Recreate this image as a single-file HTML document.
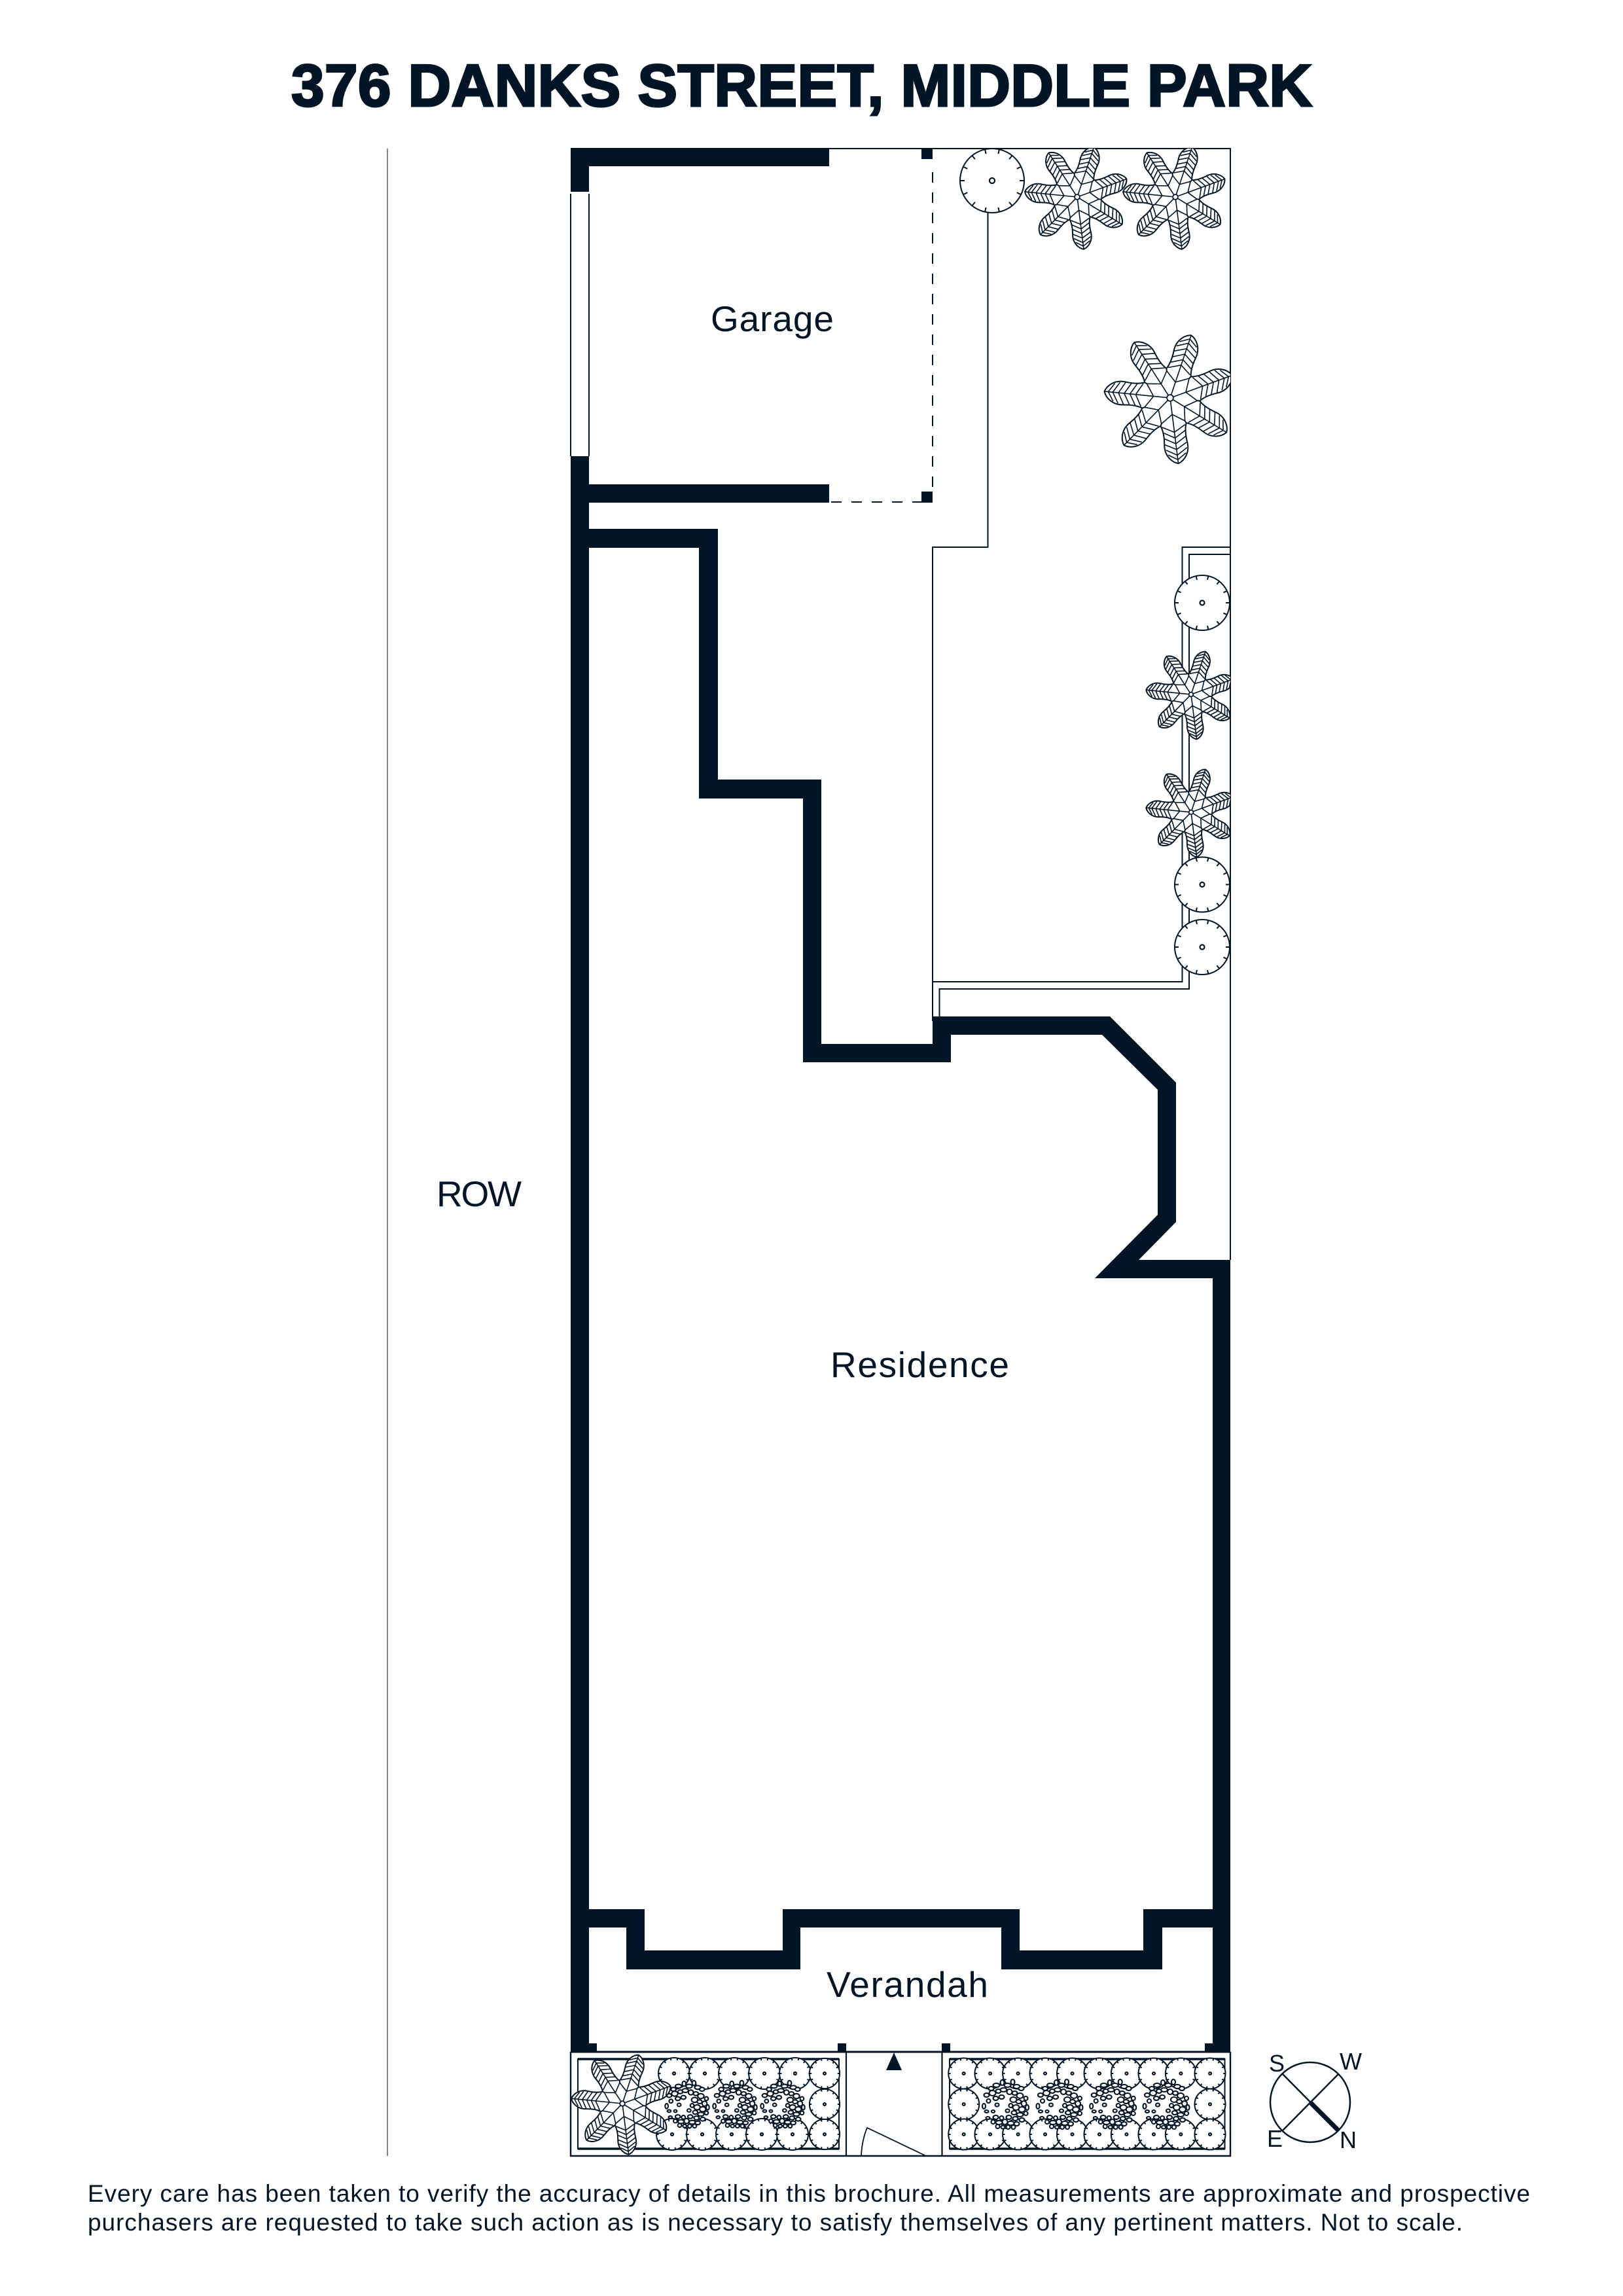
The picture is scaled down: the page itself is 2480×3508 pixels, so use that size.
<!DOCTYPE html>
<html lang="en">
<head>
<meta charset="utf-8">
<title>376 Danks Street, Middle Park</title>
<style>
html,body{margin:0;padding:0;background:#fff}
svg{display:block}
defs *{vector-effect:non-scaling-stroke}
text{font-family:"Liberation Sans",sans-serif;fill:#021527}
</style>
</head>
<body>
<svg xmlns="http://www.w3.org/2000/svg" width="2480" height="3508" viewBox="0 0 2480 3508">
<defs>
<clipPath id="plot"><rect x="860" y="227" width="1020" height="3067"/></clipPath>
<g id="leaf">
<path d="M42,-20C50,-17 60,-16.500 72,-18C88,-20 100,-10 103,0C100,10 88,20 72,18C60,16.500 50,17 42,20" fill="#fff" stroke="#021527" stroke-width="2"/>
<path d="M5,0L102,0M26,0L38,-18L42,-20M26,0L38,18L42,20M54,0L44,-18M54,0L44,18M63,0L53,-17M63,0L53,17M72,0L62,-17M72,0L62,17M81,0L71,-18M81,0L71,18M90,0L80,-16.500M90,0L80,16.500M97,0L88,-14M97,0L88,14" fill="none" stroke="#021527" stroke-width="1.600"/>
</g>
<g id="palm">
<circle r="46" fill="#fff"/>
<use href="#leaf" transform="rotate(-20)"/>
<use href="#leaf" transform="rotate(31.43)"/>
<use href="#leaf" transform="rotate(82.86)"/>
<use href="#leaf" transform="rotate(134.29)"/>
<use href="#leaf" transform="rotate(185.71)"/>
<use href="#leaf" transform="rotate(237.14)"/>
<use href="#leaf" transform="rotate(288.57)"/>
<circle r="5" fill="#fff" stroke="#021527" stroke-width="1.800"/>
</g>
<g id="tree">
<circle r="42" fill="#fff" stroke="#021527" stroke-width="2"/>
<path d="M42,0L36,0M37.800,18.200L32.400,15.600M26.200,32.800L22.400,28.200M9.400,41L8,35.100M-9.400,41L-8,35.100M-26.200,32.800L-22.400,28.200M-37.800,18.200L-32.400,15.600M-42,0L-36,0M-37.800,-18.200L-32.400,-15.600M-26.200,-32.800L-22.400,-28.200M-9.400,-41L-8,-35.100M9.400,-41L8,-35.100M26.200,-32.800L22.400,-28.200M37.800,-18.200L32.400,-15.600" fill="none" stroke="#021527" stroke-width="2"/>
<circle r="3.500" fill="#fff" stroke="#021527" stroke-width="2.200"/>
</g>
<g id="rocks" fill="#fff" stroke="#021527" stroke-width="2.100">
<ellipse cx="-22" cy="-24" rx="4" ry="3"/><ellipse cx="-14" cy="-29" rx="5" ry="3"/><ellipse cx="-5" cy="-33" rx="3" ry="4"/><ellipse cx="3" cy="-29" rx="5" ry="3"/><ellipse cx="11" cy="-34" rx="3" ry="4"/><ellipse cx="17" cy="-27" rx="5" ry="3"/><ellipse cx="24" cy="-24" rx="4" ry="3"/>
<ellipse cx="-29" cy="-14" rx="4" ry="3"/><ellipse cx="-20" cy="-17" rx="5" ry="4"/><ellipse cx="-11" cy="-20" rx="4" ry="3"/><ellipse cx="-3" cy="-22" rx="5" ry="3"/><ellipse cx="6" cy="-19" rx="4" ry="4"/><ellipse cx="14" cy="-17" rx="4" ry="3"/><ellipse cx="22" cy="-13" rx="5" ry="4"/><ellipse cx="31" cy="-9" rx="3" ry="3"/>
<ellipse cx="-26" cy="-5" rx="3" ry="3"/><ellipse cx="-15" cy="-9" rx="4" ry="3"/><ellipse cx="-6" cy="-11" rx="4" ry="3"/><ellipse cx="12" cy="-7" rx="5" ry="4"/><ellipse cx="20" cy="-4" rx="4" ry="3"/><ellipse cx="28" cy="-1" rx="4" ry="4"/>
<ellipse cx="-33" cy="3" rx="2.500" ry="4"/><ellipse cx="-13" cy="1" rx="3" ry="2.500"/><ellipse cx="8" cy="2" rx="3" ry="3"/><ellipse cx="16" cy="5" rx="5" ry="4"/><ellipse cx="25" cy="8" rx="5" ry="4"/><ellipse cx="33" cy="5" rx="2.500" ry="4"/>
<ellipse cx="-29" cy="11" rx="3" ry="2"/><ellipse cx="-19" cy="11" rx="2.500" ry="2"/><ellipse cx="3" cy="10" rx="3" ry="2.500"/><ellipse cx="13" cy="13" rx="4" ry="3"/><ellipse cx="22" cy="16" rx="5" ry="3"/><ellipse cx="31" cy="14" rx="3" ry="3"/>
<ellipse cx="-27" cy="21" rx="3" ry="2"/><ellipse cx="-15" cy="20" rx="4" ry="3"/><ellipse cx="-6" cy="21" rx="3" ry="3"/><ellipse cx="5" cy="20" rx="4" ry="3"/><ellipse cx="15" cy="22" rx="4" ry="3"/><ellipse cx="25" cy="24" rx="4" ry="3"/>
<ellipse cx="-19" cy="27" rx="3" ry="3"/><ellipse cx="-10" cy="28" rx="5" ry="3"/><ellipse cx="-1" cy="27" rx="4" ry="4"/><ellipse cx="8" cy="29" rx="5" ry="3"/><ellipse cx="17" cy="30" rx="4" ry="3"/>
<ellipse cx="-12" cy="34" rx="3" ry="3"/><ellipse cx="-4" cy="35" rx="3" ry="2.500"/><ellipse cx="4" cy="35" rx="3" ry="3"/><ellipse cx="12" cy="35" rx="3" ry="3"/>
</g>
</defs>

<rect width="2480" height="3508" fill="#fff"/>

<text x="445" y="162" font-size="91" font-weight="700" textLength="1560" stroke="#021527" stroke-width="3">376 DANKS STREET, MIDDLE PARK</text>

<!-- ROW line and plot -->
<line x1="592" y1="227" x2="592" y2="3294" stroke="#5d6875" stroke-width="1.600"/>
<path d="M872,227H1880V1925" fill="none" stroke="#021527" stroke-width="2"/>
<path d="M872,296V697M900,296V697" fill="none" stroke="#021527" stroke-width="2"/>
<path d="M872,3135V3294H1880V3135" fill="none" stroke="#021527" stroke-width="2.400"/>
<line x1="872" y1="3135" x2="1880" y2="3135" stroke="#021527" stroke-width="3"/>
<path d="M1293,3135V3294M1439.500,3135V3294" fill="none" stroke="#021527" stroke-width="2.200"/>

<!-- garden lines -->
<path d="M1509.500,275V836H1425V1560" fill="none" stroke="#021527" stroke-width="2"/>
<path d="M1880,836H1806.500V1500H1425" fill="none" stroke="#021527" stroke-width="2"/>
<path d="M1880,847H1817V1511H1435.500V1555" fill="none" stroke="#021527" stroke-width="2"/>

<!-- garage door dashes -->
<line x1="1425" y1="263" x2="1425" y2="752" stroke="#021527" stroke-width="2" stroke-dasharray="16 15"/>
<line x1="1270" y1="767" x2="1408" y2="767" stroke="#021527" stroke-width="2" stroke-dasharray="16 15"/>

<!-- planters -->
<rect x="883" y="3146" width="399" height="137" fill="#fff" stroke="#021527" stroke-width="2"/>
<rect x="1451" y="3146" width="420.500" height="137" fill="#fff" stroke="#021527" stroke-width="2"/>
<path d="M883,3146H1282M883,3283H1282M1451,3146H1871.500M1451,3283H1871.500" stroke="#021527" stroke-width="3.500" fill="none"/>

<!-- plants -->
<g clip-path="url(#plot)">
<use href="#tree" transform="translate(1516,276) scale(1.167)"/>
<use href="#tree" transform="translate(1837,921)"/>
<use href="#tree" transform="translate(1837,1351.500)"/>
<use href="#tree" transform="translate(1837,1447)"/>
<use href="#palm" transform="translate(1646,301) scale(.78)"/>
<use href="#palm" transform="translate(1796,301) scale(.78)"/>
<use href="#palm" transform="translate(1788,608) scale(.98)"/>
<use href="#palm" transform="translate(1820,1061) scale(.67)"/>
<use href="#palm" transform="translate(1820,1241) scale(.67)"/>

<!-- left planter trees -->
<use href="#tree" transform="translate(1030,3168) scale(.57)"/>
<use href="#tree" transform="translate(1077,3168) scale(.57)"/>
<use href="#tree" transform="translate(1122,3168) scale(.57)"/>
<use href="#tree" transform="translate(1168,3168) scale(.57)"/>
<use href="#tree" transform="translate(1215,3168) scale(.57)"/>
<use href="#tree" transform="translate(1260,3168) scale(.55)"/>
<use href="#tree" transform="translate(1260,3215) scale(.55)"/>
<use href="#tree" transform="translate(1260,3261) scale(.55)"/>
<use href="#tree" transform="translate(1027,3261) scale(.57)"/>
<use href="#tree" transform="translate(1073,3261) scale(.57)"/>
<use href="#tree" transform="translate(1118,3261) scale(.57)"/>
<use href="#tree" transform="translate(1164,3261) scale(.57)"/>
<use href="#tree" transform="translate(1211,3261) scale(.57)"/>
<use href="#rocks" transform="translate(1050,3215) scale(.95)"/>
<use href="#rocks" transform="translate(1123,3215) scale(.95)"/>
<use href="#rocks" transform="translate(1196,3215) scale(.95)"/>
<use href="#palm" transform="translate(951,3214) scale(.76)"/>

<!-- right planter trees -->
<use href="#tree" transform="translate(1472.700,3168) scale(.56)"/>
<use href="#tree" transform="translate(1513,3168) scale(.56)"/>
<use href="#tree" transform="translate(1555.600,3168) scale(.56)"/>
<use href="#tree" transform="translate(1597,3168) scale(.56)"/>
<use href="#tree" transform="translate(1638.500,3168) scale(.56)"/>
<use href="#tree" transform="translate(1680,3168) scale(.56)"/>
<use href="#tree" transform="translate(1721.400,3168) scale(.56)"/>
<use href="#tree" transform="translate(1763,3168) scale(.56)"/>
<use href="#tree" transform="translate(1804.400,3168) scale(.56)"/>
<use href="#tree" transform="translate(1849,3168) scale(.56)"/>
<use href="#tree" transform="translate(1472.700,3215) scale(.56)"/>
<use href="#tree" transform="translate(1849,3215) scale(.56)"/>
<use href="#tree" transform="translate(1472.700,3261) scale(.56)"/>
<use href="#tree" transform="translate(1513,3261) scale(.56)"/>
<use href="#tree" transform="translate(1555.600,3261) scale(.56)"/>
<use href="#tree" transform="translate(1597,3261) scale(.56)"/>
<use href="#tree" transform="translate(1638.500,3261) scale(.56)"/>
<use href="#tree" transform="translate(1680,3261) scale(.56)"/>
<use href="#tree" transform="translate(1721.400,3261) scale(.56)"/>
<use href="#tree" transform="translate(1763,3261) scale(.56)"/>
<use href="#tree" transform="translate(1804.400,3261) scale(.56)"/>
<use href="#tree" transform="translate(1849,3261) scale(.56)"/>
<use href="#rocks" transform="translate(1536.500,3215)"/>
<use href="#rocks" transform="translate(1619,3215)"/>
<use href="#rocks" transform="translate(1700.700,3215)"/>
<use href="#rocks" transform="translate(1782,3215)"/>
</g>

<!-- walls -->
<g fill="#021527">
<rect x="872" y="227" width="395" height="27"/>
<rect x="872" y="227" width="28" height="66"/>
<rect x="1408" y="227" width="17" height="16"/>
<rect x="872" y="697" width="28" height="2438"/>
<rect x="872" y="740" width="395" height="28"/>
<rect x="1408" y="751" width="17" height="17"/>
<rect x="872" y="3122" width="40" height="13"/>
<rect x="1280" y="3122" width="13" height="13"/>
<rect x="1439" y="3122" width="13" height="13"/>
<polygon points="900,808 1097,808 1097,1191 1255,1191 1255,1595 1425,1595 1425,1553 1696,1553 1797,1654 1797,1867 1740,1925 1880,1925 1880,3135 1841,3135 1841,3122 1853,3122 1853,2945 1776,2945 1776,3009 1530,3009 1530,2945 1223,2945 1223,3009 957,3009 957,2945 900,2945 900,2917 985,2917 985,2980 1196,2980 1196,2917 1558,2917 1558,2980 1747,2980 1747,2917 1853,2917 1853,1953 1673,1953 1769,1856 1769,1665 1684,1581 1453,1581 1453,1623 1227,1623 1227,1220 1068,1220 1068,837 900,837"/>
<polygon points="1366,3136 1354,3163 1378,3163"/>
</g>

<!-- door -->
<path d="M1316,3294Q1317,3270 1325,3251L1415,3294" fill="none" stroke="#021527" stroke-width="1.800"/>

<!-- labels -->
<text x="1086" y="506" font-size="55" textLength="188">Garage</text>
<text x="667" y="1843" font-size="55" textLength="130">ROW</text>
<text x="1269" y="2104" font-size="55" textLength="273">Residence</text>
<text x="1263" y="3051" font-size="55" textLength="247">Verandah</text>

<!-- compass -->
<g fill="none" stroke="#021527" stroke-width="2.500">
<circle cx="2002" cy="3212" r="61"/>
<path d="M1960,3169L2045,3255M2045,3169L1960,3255"/>
<path d="M2002,3212L2045,3255" stroke-width="7"/>
</g>
<text x="1939" y="3165" font-size="36">S</text>
<text x="2047" y="3162" font-size="36">W</text>
<text x="1936" y="3280" font-size="36">E</text>
<text x="2047" y="3282" font-size="36">N</text>

<!-- disclaimer -->
<text x="134" y="3364" font-size="37" textLength="2204">Every care has been taken to verify the accuracy of details in this brochure. All measurements are approximate and prospective</text>
<text x="134" y="3408" font-size="37" textLength="2101">purchasers are requested to take such action as is necessary to satisfy themselves of any pertinent matters. Not to scale.</text>
</svg>
</body>
</html>
